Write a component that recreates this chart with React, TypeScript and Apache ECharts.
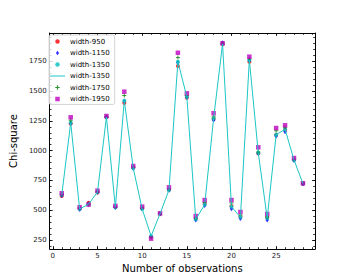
import React, { useEffect, useRef } from "react";
import * as echarts from "echarts";

const observations = [1, 2, 3, 4, 5, 6, 7, 8, 9, 10, 11, 12, 13, 14, 15, 16, 17, 18, 19, 20, 21, 22, 23, 24, 25, 26, 27, 28];
const width950 = [619, 1226, 515, 563, 649, 1280, 528, 1400, 858, 515, 276, 468, 669, 1711, 1444, 430, 555, 1265, 1894, 535, 445, 1747, 977, 438, 1131, 1176, 922, 723];
const width1150 = [624, 1231, 505, 555, 651, 1281, 523, 1415, 850, 512, 279, 467, 667, 1738, 1449, 418, 540, 1257, 1907, 513, 430, 1757, 976, 417, 1123, 1159, 918, 722];
const width1350 = [629, 1235, 510, 550, 653, 1282, 525, 1420, 854, 510, 283, 470, 670, 1747, 1453, 423, 547, 1271, 1897, 530, 440, 1761, 982, 434, 1134, 1179, 922, 723];
const width1750 = [634, 1255, 518, 548, 657, 1285, 530, 1464, 863, 520, 271, 471, 679, 1782, 1464, 435, 565, 1285, 1900, 560, 460, 1772, 989, 445, 1168, 1196, 927, 724];
const width1950 = [642, 1280, 525, 547, 664, 1291, 536, 1495, 871, 530, 261, 474, 692, 1822, 1481, 451, 585, 1314, 1902, 585, 485, 1789, 1028, 468, 1190, 1213, 938, 726];

const xMajorTicks = [0, 5, 10, 15, 20, 25];
const xMinorTicks = [0, 1, 2, 3, 4, 5, 6, 7, 8, 9, 10, 11, 12, 13, 14, 15, 16, 17, 18, 19, 20, 21, 22, 23, 24, 25, 26, 27, 28, 29];
const yMajorTicks = [250, 500, 750, 1000, 1250, 1500, 1750];
const yMinorTicks = [200, 250, 300, 350, 400, 450, 500, 550, 600, 650, 700, 750, 800, 850, 900, 950, 1000, 1050, 1100, 1150, 1200, 1250, 1300, 1350, 1400, 1450, 1500, 1550, 1600, 1650, 1700, 1750, 1800, 1850, 1900, 1950];

const LINE_NAME = "width-1350 (line)";
const FONT = "DejaVu Sans";

const CIRCLE = "path://M5,0A5,5,0,1,1,5,10A5,5,0,1,1,5,0Z";
const DIAMOND = "path://M3.5,0L7,5L3.5,10L0,5Z";
const PLUS = "path://M3,0H5V3H8V5H5V8H3V5H0V3H3Z";
const SQUARE = "path://M0,0H10V10H0Z";
const HLINE = "path://M0,0H30V2H0Z";

function pairs(vals: number[]) {
  return observations.map((x, i) => [x, vals[i]]);
}

export default function App() {
  const ref = useRef<HTMLDivElement>(null);
  useEffect(() => {
    if (!ref.current) return;
    const chart = echarts.init(ref.current, undefined, { renderer: "svg" });
    const xBase = { type: "value" as const, min: -0.35, max: 29.35, splitLine: { show: false } };
    const yBase = { type: "value" as const, min: 174, max: 1988, splitLine: { show: false } };
    const lineStyle = { color: "#000", width: 1 };
    const tickStyle = { color: "#000", width: 0.8 };
    const major = (vals: number[]) => ({ show: true, inside: true, length: 3, customValues: vals, lineStyle: tickStyle });
    const minor = (vals: number[]) => ({ show: true, inside: true, length: 1.8, customValues: vals, lineStyle: tickStyle });
    const option: any = {
      animation: false,
      textStyle: { fontFamily: FONT },
      grid: { left: 43, right: 35, top: 33, bottom: 31 },
      xAxis: [
        {
          ...xBase,
          position: "bottom",
          name: "Number of observations",
          nameLocation: "middle",
          nameGap: 12,
          nameTextStyle: { fontSize: 10, color: "#000", fontFamily: FONT },
          axisLine: { show: true, onZero: false, lineStyle },
          axisTick: major(xMajorTicks),
          axisLabel: { show: true, customValues: xMajorTicks, fontSize: 7, color: "#222", margin: 3, fontFamily: FONT },
        },
        { ...xBase, position: "bottom", axisLine: { show: false, onZero: false }, axisTick: minor(xMinorTicks), axisLabel: { show: false } },
        { ...xBase, position: "top", axisLine: { show: true, onZero: false, lineStyle }, axisTick: major(xMajorTicks), axisLabel: { show: false } },
        { ...xBase, position: "top", axisLine: { show: false, onZero: false }, axisTick: minor(xMinorTicks), axisLabel: { show: false } },
      ],
      yAxis: [
        {
          ...yBase,
          position: "left",
          name: "Chi-square",
          nameLocation: "middle",
          nameGap: 22,
          nameTextStyle: { fontSize: 10, color: "#000", fontFamily: FONT },
          axisLine: { show: true, onZero: false, lineStyle },
          axisTick: major(yMajorTicks),
          axisLabel: {
            show: true,
            customValues: yMajorTicks,
            fontSize: 7,
            color: "#222",
            margin: 3,
            fontFamily: FONT,
            formatter: (v: number) => String(v),
          },
        },
        { ...yBase, position: "left", axisLine: { show: false, onZero: false }, axisTick: minor(yMinorTicks), axisLabel: { show: false } },
        { ...yBase, position: "right", axisLine: { show: true, onZero: false, lineStyle }, axisTick: major(yMajorTicks), axisLabel: { show: false } },
        { ...yBase, position: "right", axisLine: { show: false, onZero: false }, axisTick: minor(yMinorTicks), axisLabel: { show: false } },
      ],
      legend: {
        orient: "vertical",
        left: 49,
        top: 35,
        padding: [3, 5, 2, 1],
        itemWidth: 15,
        itemHeight: 4.5,
        itemGap: 4.5,
        symbolKeepAspect: true,
        borderColor: "#cccccc",
        borderWidth: 0.8,
        borderRadius: 2,
        backgroundColor: "rgba(255,255,255,0.8)",
        textStyle: { fontSize: 7, lineHeight: 7, color: "#000", fontFamily: FONT },
        formatter: (name: string) => (name === LINE_NAME ? "width-1350" : name),
        data: [
          { name: "width-950", icon: CIRCLE },
          { name: "width-1150", icon: DIAMOND },
          { name: "width-1350", icon: CIRCLE },
          { name: LINE_NAME, icon: HLINE },
          { name: "width-1750", icon: PLUS },
          { name: "width-1950", icon: SQUARE },
        ],
      },
      series: [
        { name: "width-950", type: "scatter", data: pairs(width950), symbol: "circle", symbolSize: 4, itemStyle: { color: "#ff0000" } },
        { name: "width-1150", type: "scatter", data: pairs(width1150), symbol: "diamond", symbolSize: [3.5, 5], itemStyle: { color: "#0000ff" } },
        { name: "width-1350", type: "scatter", data: pairs(width1350), symbol: "circle", symbolSize: 4, itemStyle: { color: "#00bfbf" } },
        { name: LINE_NAME, type: "line", data: pairs(width1350), symbol: "none", lineStyle: { color: "#1cc6c6", width: 1 }, itemStyle: { color: "#1cc6c6" } },
        { name: "width-1750", type: "scatter", data: pairs(width1750), symbol: PLUS, symbolSize: 4, itemStyle: { color: "#008000" } },
        { name: "width-1950", type: "scatter", data: pairs(width1950), symbol: "rect", symbolSize: 4.5, itemStyle: { color: "#bf00bf" } },
      ],
    };
    chart.setOption(option);
    return () => chart.dispose();
  }, []);
  return <div ref={ref} style={{ position: "fixed", left: 0, top: 0, width: 350, height: 280, background: "#fff" }} />;
}
